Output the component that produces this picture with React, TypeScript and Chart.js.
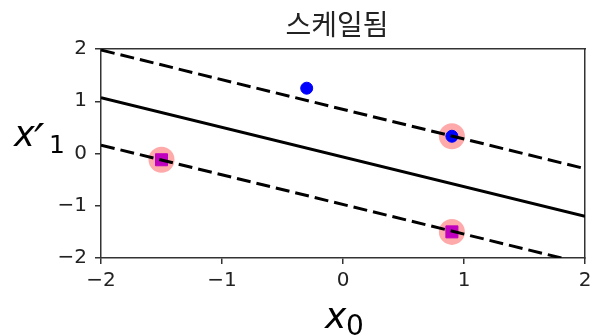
import React, { useEffect, useRef } from 'react';
import { Chart, registerables } from 'chart.js';

Chart.register(...registerables);

// ---- data ----
const chartTitle = '스케일됨';
const xLabelMain = 'x';
const xLabelSub = '0';
const yLabelMain = 'x';
const yLabelPrime = '′';
const yLabelSub = '1';

const xTicks = [-2, -1, 0, 1, 2];
const yTicks = [-2, -1, 0, 1, 2];

// positive class (blue circles)
const posX = [-0.3, 0.9];
const posY = [1.25, 0.33];
// negative class (magenta squares)
const negX = [-1.5, 0.9];
const negY = [-0.12, -1.5];
// support vectors (pink halos)
const svX = [0.9, -1.5, 0.9];
const svY = [0.33, -0.12, -1.5];

// decision boundary and margins
const lineX = [-2, 2];
const boundaryY = [1.07, -1.2];
const upperMarginY = [1.98, -0.29];
const lowerMarginY = [0.16, -2.11];

const pts = (xs: number[], ys: number[]) => xs.map((x, i) => ({ x, y: ys[i] }));
const fmt = (v: number) => String(v).replace('-', '\u2212');

const AXIS = '#333';
const TICKFONT = { family: '"DejaVu Sans"', size: 20 };

const textPlugin = {
  id: 'texts',
  afterDraw(chart: any) {
    const { ctx, chartArea: a } = chart;
    const cx = (a.left + a.right) / 2;
    const cy = (a.top + a.bottom) / 2;
    ctx.save();
    ctx.fillStyle = '#222';
    ctx.textBaseline = 'alphabetic';
    ctx.textAlign = 'center';
    ctx.font = '28px "Noto Sans CJK KR"';
    ctx.fillText(chartTitle, cx - 6, a.top - 14);

    ctx.fillStyle = '#000';
    ctx.textAlign = 'left';
    // x label
    ctx.font = 'italic 36px "DejaVu Sans"';
    ctx.fillText(xLabelMain, cx - 18, a.bottom + 70);
    ctx.font = '28px "DejaVu Sans"';
    ctx.fillText(xLabelSub, cx + 3, a.bottom + 77);
    // y label
    ctx.font = 'italic 35px "DejaVu Sans"';
    ctx.fillText(yLabelMain, a.left - 87, cy - 8);
    ctx.font = 'italic 46px "DejaVu Sans"';
    ctx.fillText(yLabelPrime, a.left - 67, cy + 3);
    ctx.font = '25px "DejaVu Sans"';
    ctx.fillText(yLabelSub, a.left - 52, cy - 1);
    ctx.restore();
  },
};

export default function App() {
  const ref = useRef<HTMLCanvasElement>(null);
  useEffect(() => {
    const canvas = ref.current!;
    const lineDs = (label: string, ys: number[], dash: number[]) => ({
      label,
      data: pts(lineX, ys),
      showLine: true,
      borderColor: '#000',
      backgroundColor: '#000',
      borderWidth: 3,
      borderDash: dash,
      pointRadius: 0,
      clip: 0,
    });
    const zeroPad = (s: any) => {
      s.paddingLeft = 0;
      s.paddingRight = 0;
      s.paddingTop = 0;
      s.paddingBottom = 0;
    };
    const chart = new Chart(canvas, {
      type: 'scatter',
      data: {
        datasets: [
          lineDs('boundary', boundaryY, []),
          lineDs('upper', upperMarginY, [14, 6]),
          lineDs('lower', lowerMarginY, [14, 6]),
          {
            label: 'pos',
            data: pts(posX, posY),
            pointStyle: 'circle',
            pointRadius: 6,
            borderWidth: 1,
            backgroundColor: '#0000ff',
            borderColor: '#0000ff',
          },
          {
            label: 'neg',
            data: pts(negX, negY),
            pointStyle: 'rect',
            pointRadius: 8.5,
            borderWidth: 1,
            backgroundColor: '#bf00bf',
            borderColor: '#bf00bf',
          },
          {
            label: 'sv',
            data: pts(svX, svY),
            pointStyle: 'circle',
            pointRadius: 13,
            borderWidth: 0,
            backgroundColor: '#ffaaaa',
            borderColor: '#ffaaaa',
          },
        ] as any,
      },
      options: {
        animation: false,
        responsive: false,
        events: [],
        layout: { autoPadding: false, padding: { left: 0, top: 49, right: 6, bottom: 0 } },
        plugins: { legend: { display: false }, tooltip: { enabled: false }, title: { display: false } },
        scales: {
          x: {
            type: 'linear',
            position: 'bottom',
            min: -2,
            max: 2,
            z: 1,
            afterFit: (s: any) => { s.height = 78; zeroPad(s); },
            afterBuildTicks: (s: any) => { s.ticks = xTicks.map((value) => ({ value })); },
            ticks: { callback: (v: any) => fmt(v), font: TICKFONT, color: '#222', padding: 5, maxRotation: 0, autoSkip: false },
            grid: { drawOnChartArea: false, drawTicks: true, tickLength: 6, color: AXIS, lineWidth: 1.5 },
            border: { display: true, color: AXIS, width: 1.5 },
          },
          y: {
            type: 'linear',
            position: 'left',
            min: -2,
            max: 2,
            z: 1,
            afterFit: (s: any) => { s.width = 101; zeroPad(s); },
            afterBuildTicks: (s: any) => { s.ticks = yTicks.map((value) => ({ value })); },
            ticks: { callback: (v: any) => fmt(v), font: TICKFONT, color: '#222', padding: 8, autoSkip: false },
            grid: { drawOnChartArea: false, drawTicks: true, tickLength: 6, color: AXIS, lineWidth: 1.5 },
            border: { display: true, color: AXIS, width: 1.5 },
          },
          x2: {
            type: 'linear',
            position: 'top',
            min: -2,
            max: 2,
            z: 1,
            afterFit: (s: any) => { s.height = 0; zeroPad(s); },
            ticks: { display: false },
            grid: { display: false, drawTicks: false },
            border: { display: true, color: AXIS, width: 1.5 },
          },
          y2: {
            type: 'linear',
            position: 'right',
            min: -2,
            max: 2,
            z: 1,
            afterFit: (s: any) => { s.width = 0; zeroPad(s); },
            ticks: { display: false },
            grid: { display: false, drawTicks: false },
            border: { display: true, color: AXIS, width: 1.5 },
          },
        } as any,
      },
      plugins: [textPlugin],
    });
    return () => chart.destroy();
  }, []);
  return (
    <div style={{ position: 'fixed', left: 0, top: 0, width: 591, height: 336, background: '#fff' }}>
      <canvas ref={ref} width={591} height={336} style={{ display: 'block' }} />
    </div>
  );
}
